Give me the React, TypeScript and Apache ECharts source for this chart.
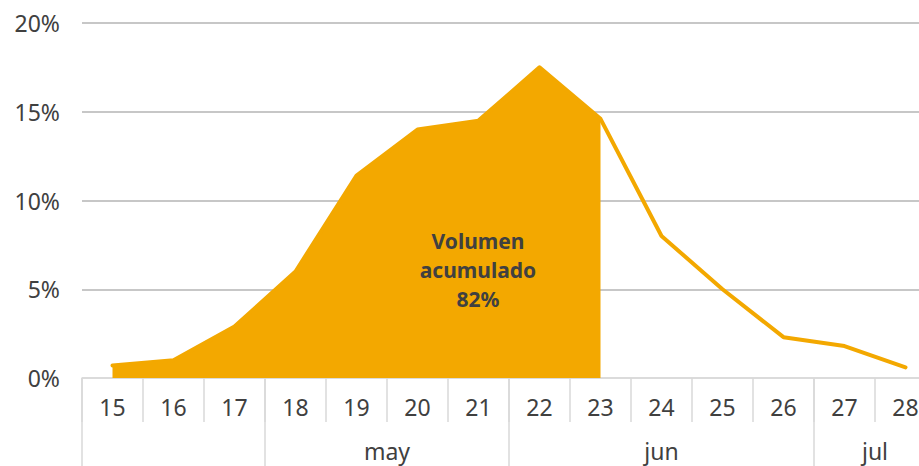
import React, { useEffect, useRef } from "react";
import * as echarts from "echarts";

const days = ["15", "16", "17", "18", "19", "20", "21", "22", "23", "24", "25", "26", "27", "28"];
const volumes = [0.7, 1.0, 2.9, 6.0, 11.4, 14.0, 14.5, 17.5, 14.6, 8.0, 5.0, 2.3, 1.8, 0.6];
const lastAccumulatedIndex = 8; // day 23
const months = ["", "may", "jun", "jul"];
const monthStarts = [0, 3, 7, 12];
const monthEnds = [2, 6, 11, 13];
const annotationLines = ["Volumen", "acumulado", "82%"];

const FONT = '"Noto Sans", "DejaVu Sans", sans-serif';
const ORANGE = "#F3A800";
const TEXT = "#404040";
const LIGHT = "#D9D9D9";

export default function App() {
  const ref = useRef<HTMLDivElement>(null);
  useEffect(() => {
    if (!ref.current) return;
    const chart = echarts.init(ref.current, null, { renderer: "svg" });
    const accumulated = volumes.map((v, i) => (i <= lastAccumulatedIndex ? v : null));
    chart.setOption({
      animation: false,
      grid: { left: 82, right: 0, top: 23, bottom: 88, containLabel: false },
      xAxis: {
        type: "category",
        data: days,
        boundaryGap: true,
        axisLine: { show: true, lineStyle: { color: LIGHT, width: 1.5 } },
        axisTick: { show: true, interval: 0, length: 44, lineStyle: { color: LIGHT, width: 1.5 } },
        axisLabel: { interval: 0, margin: 17, fontSize: 23, color: TEXT, fontFamily: FONT },
        splitLine: { show: false },
      },
      yAxis: {
        type: "value",
        min: 0,
        max: 20,
        interval: 5,
        axisLine: { show: false },
        axisTick: { show: false },
        axisLabel: { formatter: "{value}%", margin: 22, fontSize: 23, color: TEXT, fontFamily: FONT },
        splitLine: {
          show: true,
          lineStyle: { color: [LIGHT, "#B4B4B4", "#B4B4B4", "#B4B4B4", "#B4B4B4"], width: 1.5 },
        },
      },
      series: [
        {
          type: "line",
          data: accumulated,
          symbol: "none",
          connectNulls: false,
          lineStyle: { width: 0, color: ORANGE },
          itemStyle: { color: ORANGE },
          areaStyle: { color: ORANGE, opacity: 1 },
          z: 2,
        },
        {
          type: "line",
          data: volumes,
          symbol: "none",
          lineStyle: { width: 4, color: ORANGE, cap: "round", join: "round" },
          itemStyle: { color: ORANGE },
          z: 3,
        },
        {
          type: "custom",
          clip: false,
          silent: true,
          z: 4,
          encode: { x: [0, 1], y: 2 },
          data: months.map((_, i) => [monthStarts[i], monthEnds[i], 0]),
          renderItem: (params: any, api: any) => {
            const idx = params.dataIndex;
            const bw = api.size([1, 0])[0];
            const a = api.coord([api.value(0), 0]);
            const b = api.coord([api.value(1), 0]);
            const x0 = a[0] - bw / 2;
            const x1 = b[0] + bw / 2;
            const y = a[1];
            return {
              type: "group",
              children: [
                {
                  type: "line",
                  shape: { x1: x0, y1: y, x2: x0, y2: y + 100 },
                  style: { stroke: LIGHT, lineWidth: 1.5 },
                },
                {
                  type: "text",
                  style: {
                    text: months[idx],
                    x: (x0 + x1) / 2,
                    y: y + 73,
                    align: "center",
                    verticalAlign: "middle",
                    fill: TEXT,
                    fontSize: 23,
                    fontFamily: FONT,
                  },
                },
              ],
            };
          },
        },
      ],
      graphic: annotationLines.map((line, i) => ({
        type: "text",
        x: 478,
        y: 241 + i * 29,
        z: 10,
        style: {
          text: line,
          align: "center",
          verticalAlign: "middle",
          fill: TEXT,
          fontSize: 21,
          fontWeight: "bold",
          fontFamily: FONT,
        },
      })),
    });
    return () => chart.dispose();
  }, []);
  return (
    <div style={{ position: "fixed", left: 0, top: 0, width: 919, height: 466, overflow: "hidden", background: "#fff" }}>
      <div ref={ref} style={{ width: 936, height: 466 }} />
    </div>
  );
}
